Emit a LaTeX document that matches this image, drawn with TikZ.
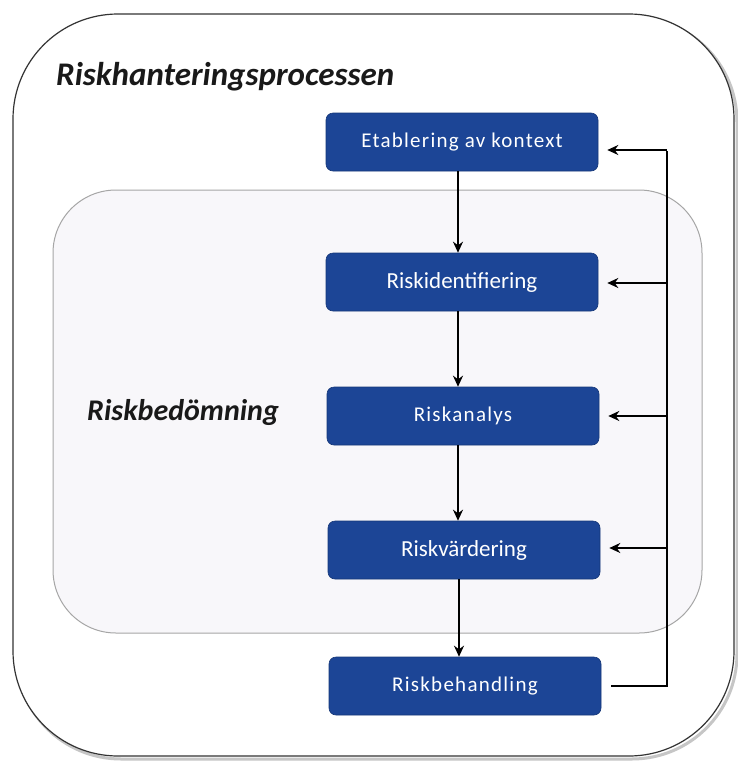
\documentclass[tikz,border=0pt]{standalone}
\usepackage{fontspec}
\setmainfont{Carlito}
\usetikzlibrary{arrows.meta}
\definecolor{boxblue}{RGB}{28,69,150}
\definecolor{innerfill}{RGB}{248,247,250}
\definecolor{titlecol}{RGB}{25,25,25}
\tikzset{
  stepbox/.style={fill=boxblue, draw=boxblue!80!black, line width=0.6pt, rounded corners=7pt,
    minimum width=272pt, minimum height=58pt, text=white, font=\fontsize{23}{26}\selectfont, inner sep=0pt},
  flow/.style={line width=2.2pt, -{Stealth[length=11pt,width=10pt]}},
  fback/.style={line width=2.2pt},
  titletext/.style={font=\fontsize{33}{38}\selectfont\bfseries\itshape, text=titlecol, anchor=west, inner sep=0pt}
}
\begin{document}
\begin{tikzpicture}[x=1pt,y=-1pt]
\useasboundingbox (0,0) rectangle (738,761);
\fill[white] (0,0) rectangle (738,761);
% outer frame with shadow
\draw[gray!45, line width=3pt, rounded corners=105pt] (16,17) rectangle (737,759);
\draw[black!80, line width=1.2pt, fill=white, rounded corners=105pt] (13,14) rectangle (734,756);
% inner frame
\draw[gray!70, line width=1pt, fill=innerfill, rounded corners=63pt] (53,190) rectangle (702,633);
% titles
\node[titletext] (t1) at (56,77) {Riskhanteringsprocessen};
\node[titletext, font=\fontsize{30}{34}\selectfont\bfseries\itshape] (t2) at (87,412) {Riskbedömning};
% boxes
\node[stepbox] (b1) at (462,142) {\fontsize{21}{24}\selectfont\addfontfeature{LetterSpace=6}Etablering av kontext};
\node[stepbox] (b2) at (462,282) {Riskidentifiering};
\node[stepbox] (b3) at (463,416) {\fontsize{21}{24}\selectfont\addfontfeature{LetterSpace=6}Riskanalys};
\node[stepbox] (b4) at (464,550) {Riskvärdering};
\node[stepbox] (b5) at (465,686) {\fontsize{21}{24}\selectfont\addfontfeature{LetterSpace=6}Riskbehandling};
% main flow
\draw[flow] (b1.south -| 458,0) -- (b2.north -| 458,0);
\draw[flow] (b2.south -| 458,0) -- (b3.north -| 458,0);
\draw[flow] (b3.south -| 458,0) -- (b4.north -| 458,0);
\draw[flow] (b4.south -| 459,0) -- (b5.north -| 459,0);
% feedback
\coordinate (r1) at (667,150);
\coordinate (r2) at (667,283);
\coordinate (r3) at (667,416);
\coordinate (r4) at (667,548);
\coordinate (r5) at (667,686);
\draw[fback, shorten <=10pt] (b5.east) -- (r5) -- ([yshift=-1pt]r1);
\draw[flow, shorten >=9pt] (r1) -- (r1 -| b1.east);
\draw[flow, shorten >=9pt] (r2) -- (r2 -| b2.east);
\draw[flow, shorten >=9pt] (r3) -- (r3 -| b3.east);
\draw[flow, shorten >=9pt] (r4) -- (r4 -| b4.east);
\end{tikzpicture}
\end{document}
